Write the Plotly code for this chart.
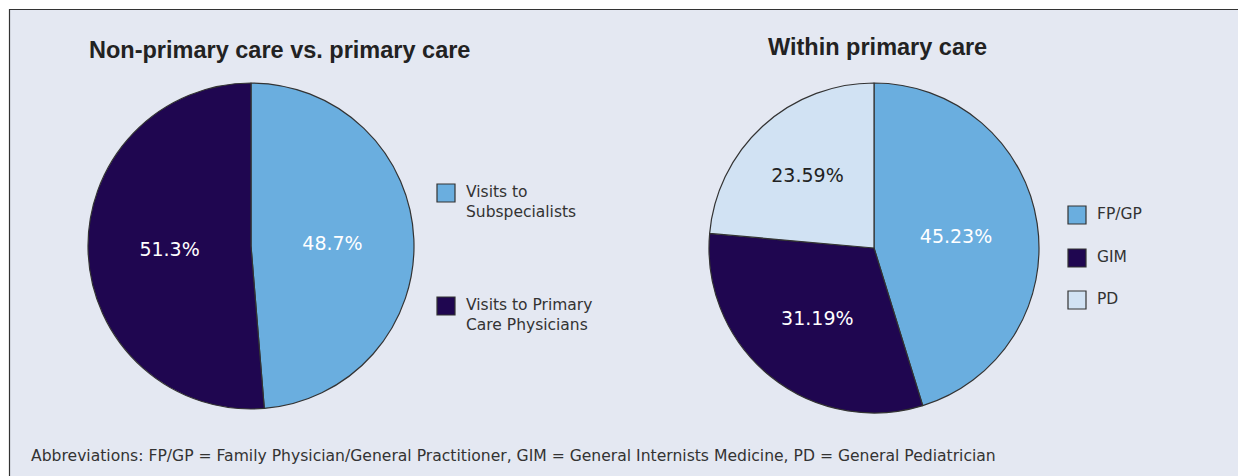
import plotly.graph_objects as go

W, H = 1238, 468
OFF = 8  # default page margin of the html body

# ---- data ----
left_title = "Non-primary care vs. primary care"
left_labels = ["Visits to<br>Subspecialists", "Visits to Primary<br>Care Physicians"]
left_values = [48.7, 51.3]
left_text = ["48.7%", "51.3%"]

right_title = "Within primary care"
right_labels = ["FP/GP", "GIM", "PD"]
right_values = [45.23, 31.19, 23.59]
right_text = ["45.23%", "31.19%", "23.59%"]

footnote = ("Abbreviations: FP/GP = Family Physician/General Practitioner, "
            "GIM = General Internists Medicine, PD = General Pediatrician")

# ---- styles ----
LIGHT = "#6aaedf"
DARK = "#1f0650"
PALE = "#d1e2f3"
EDGE = "#333333"
BG = "#e4e8f2"
FONT = "DejaVu Sans"
TFONT = "Liberation Sans"

left_colors = [LIGHT, DARK]
right_colors = [LIGHT, DARK, PALE]
right_textcolors = ["white", "white", "#222222"]


def px_x(x):
    return (x - OFF) / W


def px_y(y):
    return 1 - (y - OFF) / H


def domain(cx, cy, r):
    return dict(x=[px_x(cx - r), px_x(cx + r)], y=[px_y(cy + r), px_y(cy - r)])


fig = go.Figure()

fig.add_trace(go.Pie(
    labels=left_labels, values=left_values, text=left_text,
    textinfo="text", sort=False, direction="clockwise", rotation=0,
    marker=dict(colors=left_colors, line=dict(color=EDGE, width=1.2)),
    textfont=dict(family=FONT, size=19, color="white"),
    insidetextorientation="horizontal",
    domain=domain(251, 246, 163), showlegend=False, name="left",
))

fig.add_trace(go.Pie(
    labels=right_labels, values=right_values, text=right_text,
    textinfo="text", sort=False, direction="clockwise", rotation=0,
    marker=dict(colors=right_colors, line=dict(color=EDGE, width=1.2)),
    textfont=dict(family=FONT, size=19, color=right_textcolors),
    insidetextorientation="horizontal",
    domain=domain(874, 248, 165), showlegend=False, name="right",
))

shapes = [dict(type="rect", xref="paper", yref="paper",
               x0=px_x(9.5), x1=1.05, y0=-0.05, y1=px_y(9.5),
               fillcolor=BG, line=dict(color=EDGE, width=1.2), layer="below")]
annotations = []


def add_legend(labels, colors, sx, ys, tx):
    for lab, col, y in zip(labels, colors, ys):
        shapes.append(dict(type="rect", xref="paper", yref="paper",
                           x0=px_x(sx), x1=px_x(sx + 18), y0=px_y(y + 18), y1=px_y(y),
                           fillcolor=col, line=dict(color=EDGE, width=1.2)))
        annotations.append(dict(xref="paper", yref="paper", x=px_x(tx), y=px_y(y - 3),
                                text=lab, showarrow=False, xanchor="left", yanchor="top",
                                align="left",
                                font=dict(family=FONT, size=15.5, color="#333333")))


add_legend(left_labels, left_colors, 437, [184, 297], 464)
add_legend(right_labels, right_colors, 1068, [206, 249, 291], 1095)

annotations.append(dict(xref="paper", yref="paper", x=px_x(279), y=px_y(50),
                        text="<b>" + left_title + "</b>", showarrow=False,
                        xanchor="center", yanchor="middle",
                        font=dict(family=TFONT, size=23.5, color="#222222")))
annotations.append(dict(xref="paper", yref="paper", x=px_x(877), y=px_y(47),
                        text="<b>" + right_title + "</b>", showarrow=False,
                        xanchor="center", yanchor="middle",
                        font=dict(family=TFONT, size=23.5, color="#222222")))
annotations.append(dict(xref="paper", yref="paper", x=px_x(29), y=px_y(456),
                        text=footnote, showarrow=False,
                        xanchor="left", yanchor="middle",
                        font=dict(family=FONT, size=15.6, color="#333333")))

fig.update_layout(
    width=W, height=H, margin=dict(l=0, r=0, t=0, b=0),
    paper_bgcolor="white", plot_bgcolor="white",
    shapes=shapes, annotations=annotations,
)

fig.write_html("out.html")
